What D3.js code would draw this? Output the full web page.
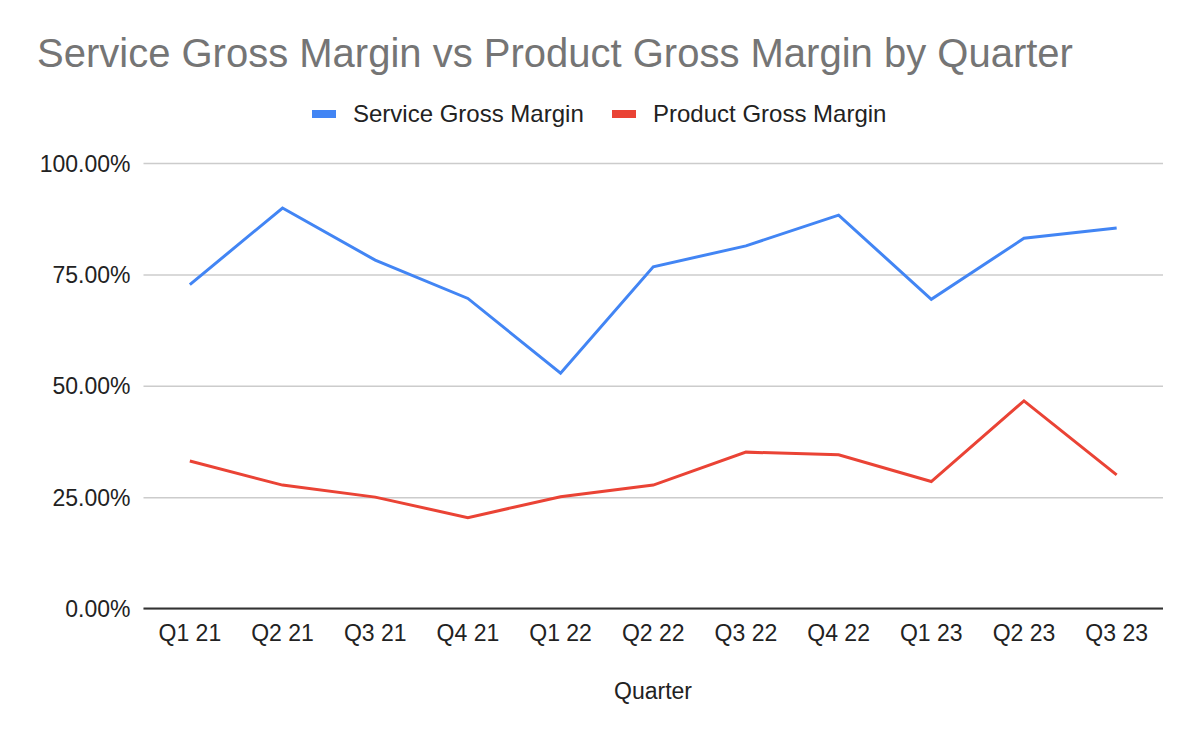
<!DOCTYPE html>
<html>
<head>
<meta charset="utf-8">
<script src="https://cdn.jsdelivr.net/npm/d3@7"></script>
<style>
  body { margin: 0; background: #fff; }
  text { font-family: "Liberation Sans", Arial, sans-serif; }
</style>
</head>
<body>
<script>
// quarters on the x axis
var quarters = ["Q1 21", "Q2 21", "Q3 21", "Q4 21", "Q1 22", "Q2 22", "Q3 22", "Q4 22", "Q1 23", "Q2 23", "Q3 23"]
// margins in percent
var serviceMargin = [72.7, 89.9, 78.2, 69.6, 52.8, 76.7, 81.4, 88.3, 69.4, 83.1, 85.4]
var productMargin = [33.1, 27.7, 25.0, 20.4, 25.1, 27.7, 35.1, 34.5, 28.5, 46.6, 30.0]
var seriesNames = ["Service Gross Margin", "Product Gross Margin"]
var seriesColors = ["#4285f4", "#ea4335"]
var yTicks = [0, 25, 50, 75, 100]

var width = 1200,
    height = 742,
    margin = {left: 143.5, right: 37, top: 163, bottom: 134}

var svg = d3.select("body").append("svg")
            .attr("width", width)
            .attr("height", height)

var x = d3.scaleBand()
          .domain(quarters)
          .range([margin.left, width - margin.right])

var y = d3.scaleLinear()
          .domain([0, 100])
          .range([height - margin.bottom + 0.5, margin.top])

// title
svg.append("text")
   .attr("x", 37)
   .attr("y", 67)
   .attr("font-size", 40)
   .attr("fill", "#757575")
   .text("Service Gross Margin vs Product Gross Margin by Quarter")

// legend
var legendX = [312, 612]
seriesNames.forEach(function(name, i) {
  var g = svg.append("g").attr("transform", "translate(" + legendX[i] + ",110)")
  g.append("rect").attr("width", 24).attr("height", 8).attr("fill", seriesColors[i])
  g.append("text")
   .attr("x", 41)
   .attr("y", 11.5)
   .attr("font-size", 24)
   .attr("fill", "#222")
   .text(name)
})

// gridlines + y labels
var yAxis = svg.append("g")
               .attr("transform", "translate(" + margin.left + ",0)")
               .call(d3.axisLeft(y)
                       .tickValues(yTicks)
                       .tickSize(-(width - margin.left - margin.right))
                       .tickPadding(13)
                       .tickFormat(function(d) { return d.toFixed(2) + "%" }))
yAxis.select(".domain").remove()
yAxis.selectAll("line").attr("stroke", "#cccccc").attr("stroke-width", 1.5)
yAxis.selectAll("text")
     .attr("font-size", 23)
     .attr("fill", "#222")
     .attr("font-family", "Liberation Sans, Arial, sans-serif")
     .attr("dy", "0.35em")

// x labels
var xAxis = svg.append("g")
               .attr("transform", "translate(0," + y(0) + ")")
               .call(d3.axisBottom(x).tickSize(0).tickPadding(16))
xAxis.select(".domain").remove()
xAxis.selectAll("text")
     .attr("font-size", 23)
     .attr("fill", "#222")
     .attr("font-family", "Liberation Sans, Arial, sans-serif")

// baseline
svg.append("line")
   .attr("x1", margin.left).attr("x2", width - margin.right)
   .attr("y1", y(0)).attr("y2", y(0))
   .attr("stroke", "#333").attr("stroke-width", 2)

svg.append("text")
   .attr("x", 653)
   .attr("y", 699)
   .attr("text-anchor", "middle")
   .attr("font-size", 23)
   .attr("fill", "#222")
   .text("Quarter")

var line = d3.line()
             .x(function(d, i) { return x(quarters[i]) + x.bandwidth() / 2 })
             .y(function(d) { return y(d) })

;[serviceMargin, productMargin].forEach(function(values, i) {
  svg.append("path")
     .datum(values)
     .attr("fill", "none")
     .attr("stroke", seriesColors[i])
     .attr("stroke-width", 3)
     .attr("stroke-linejoin", "miter")
     .attr("d", line)
})
</script>
</body>
</html>
